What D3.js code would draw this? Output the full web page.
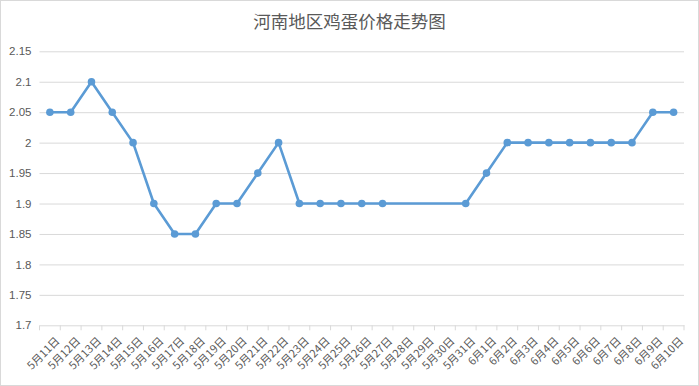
<!DOCTYPE html>
<html><head><meta charset="utf-8">
<script src="https://cdn.jsdelivr.net/npm/d3@7"></script>
<style>
body{margin:0;background:#fff;}
svg{display:block;font-family:"Noto Sans CJK SC","Noto Sans",sans-serif;}
</style></head>
<body>
<svg id="c" width="699" height="386"></svg>
<script>
const categories = ["5月11日","5月12日","5月13日","5月14日","5月15日","5月16日","5月17日","5月18日","5月19日","5月20日","5月21日","5月22日","5月23日","5月24日","5月25日","5月26日","5月27日","5月28日","5月29日","5月30日","5月31日","6月1日","6月2日","6月3日","6月4日","6月5日","6月6日","6月7日","6月8日","6月9日","6月10日"];
const prices = [2.05,2.05,2.1,2.05,2.0,1.9,1.85,1.85,1.9,1.9,1.95,2.0,1.9,1.9,1.9,1.9,1.9,null,null,null,1.9,1.95,2.0,2.0,2.0,2.0,2.0,2.0,2.0,2.05,2.05];
const yTicks = [1.7,1.75,1.8,1.85,1.9,1.95,2.0,2.05,2.1,2.15];
const title = "河南地区鸡蛋价格走势图";

(function(){
const svg = d3.select("#c");
svg.append("rect").attr("x",0.5).attr("y",0.5).attr("width",698).attr("height",385)
  .attr("fill","#fff").attr("stroke","#d9d9d9");

const mLeft = 39.5, mRight = 684, mTop = 51.3, mBottom = 325.3;
const x = d3.scaleBand().domain(categories).range([mLeft,mRight]).padding(0);
const y = d3.scaleLinear().domain([1.7,2.15]).range([mBottom,mTop]);

svg.append("text").attr("x",349.5).attr("y",28).attr("text-anchor","middle")
  .attr("font-size",17.5).attr("fill","#595959").text(title);

const yAxis = d3.axisLeft(y).tickValues(yTicks).tickSize(-(mRight-mLeft)).tickPadding(8)
  .tickFormat(d => String(+d.toFixed(2)));
const gy = svg.append("g").attr("transform",`translate(${mLeft},0)`).call(yAxis);
gy.select(".domain").remove();
gy.selectAll(".tick line").attr("stroke","#d9d9d9");
gy.selectAll(".tick").filter(d=>d===1.7).select("line").remove();
gy.selectAll(".tick text").attr("fill","#595959").attr("font-size",11.5)
  .attr("font-family","'Liberation Sans',sans-serif");

const xAxis = d3.axisBottom(x).tickSize(0).tickFormat("");
const gx = svg.append("g").attr("transform",`translate(0,${mBottom})`).call(xAxis);
gx.select(".domain").attr("stroke","#d9d9d9");
const tickPos = categories.map(c=>x(c)).concat([mRight]);
gx.selectAll("line.t").data(tickPos).join("line").attr("class","t")
  .attr("x1",d=>d).attr("x2",d=>d).attr("y1",0).attr("y2",5).attr("stroke","#d9d9d9");
svg.append("g").selectAll("text").data(categories).join("text")
  .attr("transform",d=>`translate(${x(d)+x.bandwidth()/2+5},${mBottom+11}) rotate(-45)`)
  .attr("text-anchor","end").attr("dy","0.7em")
  .attr("font-size",11).attr("fill","#595959").text(d=>d);

const pts = categories.map((c,i)=>({c,v:prices[i]})).filter(d=>d.v!==null);
const line = d3.line().x(d=>x(d.c)+x.bandwidth()/2).y(d=>y(d.v));
svg.append("path").datum(pts).attr("d",line).attr("fill","none")
  .attr("stroke","#5B9BD5").attr("stroke-width",2.6).attr("stroke-linejoin","round");
svg.append("g").selectAll("circle").data(pts).join("circle")
  .attr("cx",d=>x(d.c)+x.bandwidth()/2).attr("cy",d=>y(d.v)).attr("r",3.8)
  .attr("fill","#5B9BD5");
})();
</script>
</body></html>
